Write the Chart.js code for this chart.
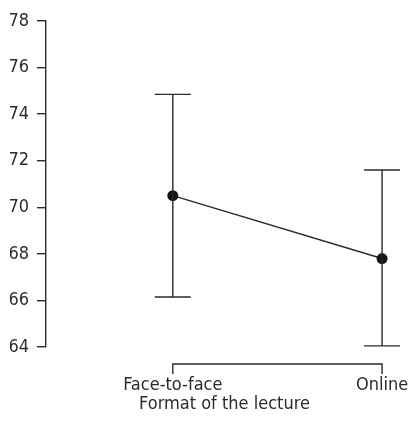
<!DOCTYPE html>
<html>
<head>
<meta charset="utf-8">
<script src="https://cdn.jsdelivr.net/npm/chart.js@4"></script>
<style>
  html, body { margin: 0; padding: 0; background: #fff; }
  #wrap { width: 411px; height: 421px; }
</style>
</head>
<body>
<div id="wrap"><canvas id="chart" width="411" height="421"></canvas></div>
<script>
// data
const formats = ["Face-to-face", "Online"];
const means = [70.5, 67.8];
const lower = [66.15, 64.05];
const upper = [74.85, 71.6];
const yTicks = [64, 66, 68, 70, 72, 74, 76, 78];

const ink = "#2b2b2b";
const fontFamily = "'Liberation Sans Narrow', 'DejaVu Sans Condensed', 'Arial Narrow', sans-serif";

// error bars and the bracket under the x axis
const extras = {
    id: "extras",
    afterDatasetsDraw(chart) {
        const { ctx, scales: { x, y } } = chart;
        ctx.save();
        ctx.strokeStyle = ink;
        ctx.lineWidth = 1.4;
        means.forEach((m, i) => {
            const px = x.getPixelForValue(i);
            const top = y.getPixelForValue(upper[i]);
            const bot = y.getPixelForValue(lower[i]);
            ctx.beginPath();
            ctx.moveTo(px, top); ctx.lineTo(px, bot);
            ctx.moveTo(px - 18, top); ctx.lineTo(px + 18, top);
            ctx.moveTo(px - 18, bot); ctx.lineTo(px + 18, bot);
            ctx.stroke();
        });
        // bracket
        const x0 = x.getPixelForValue(0);
        const x1 = x.getPixelForValue(formats.length - 1);
        const by = 364;
        ctx.beginPath();
        ctx.moveTo(x0, by + 10); ctx.lineTo(x0, by);
        ctx.lineTo(x1, by); ctx.lineTo(x1, by + 10);
        ctx.stroke();
        ctx.restore();
    }
};

new Chart(document.getElementById("chart").getContext("2d"), {
    type: "line",
    data: {
        datasets: [{
            data: means.map((m, i) => ({ x: i, y: m })),
            borderColor: ink,
            borderWidth: 1.4,
            pointRadius: 5.5,
            pointBackgroundColor: "#141414",
            pointBorderColor: "#141414",
            pointBorderWidth: 0,
            fill: false,
            tension: 0
        }]
    },
    options: {
        responsive: false,
        animation: false,
        layout: { padding: { left: 10, top: 21, right: 8, bottom: 0 } },
        plugins: { legend: { display: false }, tooltip: { enabled: false } },
        scales: {
            x: {
                type: "linear",
                min: -0.606,
                max: 1.1,
                grid: { display: false },
                border: { display: false },
                afterBuildTicks: s => { s.ticks = formats.map((f, i) => ({ value: i })); },
                afterFit: s => { s.height = 74; s.paddingLeft = 0; s.paddingRight = 0; },
                ticks: {
                    padding: 20,
                    color: ink,
                    maxRotation: 0,
                    font: { family: fontFamily, size: 18 },
                    callback: v => formats[v]
                },
                title: {
                    display: true,
                    text: "Format of the lecture",
                    color: ink,
                    padding: { top: 0, bottom: 6 },
                    font: { family: fontFamily, size: 18 }
                }
            },
            y: {
                min: 64,
                max: 78,
                afterBuildTicks: s => { s.ticks = yTicks.map(v => ({ value: v })); },
                afterFit: s => { s.width = 36; s.paddingTop = 0; s.paddingBottom = 0; },
                grid: { drawOnChartArea: false, drawTicks: true, tickLength: 9, color: ink, lineWidth: 1.4 },
                border: { display: true, color: ink, width: 1.4 },
                ticks: {
                    padding: 8,
                    color: ink,
                    font: { family: fontFamily, size: 18 }
                }
            }
        }
    },
    plugins: [extras]
});
</script>
</body>
</html>
